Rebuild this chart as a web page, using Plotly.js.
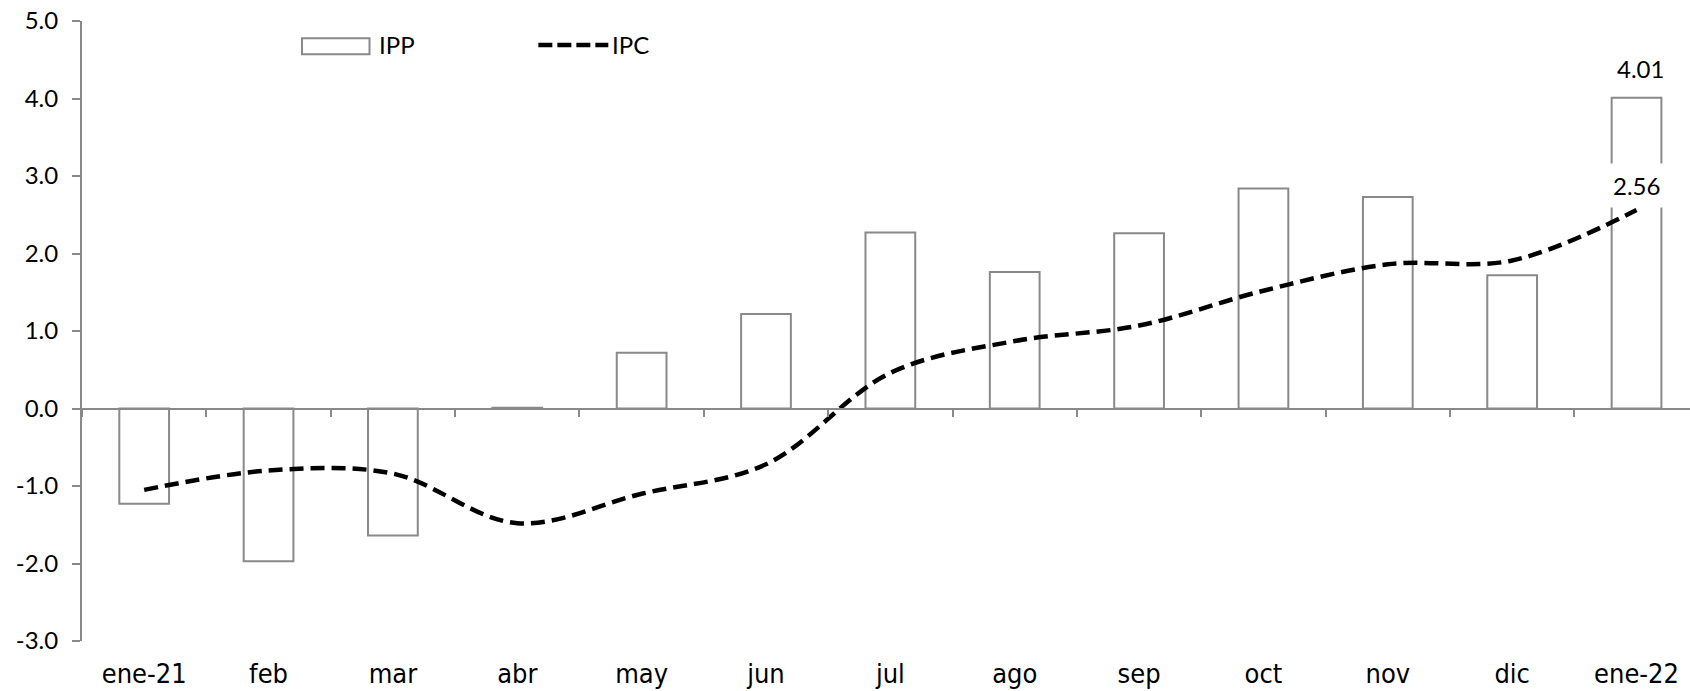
<!DOCTYPE html>
<html>
<head>
<meta charset="utf-8">
<script src="https://cdn.plot.ly/plotly-3.0.1.min.js"></script>
<style>html,body{margin:0;padding:0;background:#fff;}#chart{width:1690px;height:691px;}</style>
</head>
<body>
<div id="chart"></div>
<script>
// ---- data ----
const categories = ["ene-21","feb","mar","abr","may","jun","jul","ago","sep","oct","nov","dic","ene-22"];
const ippValues  = [-1.23, -1.97, -1.64, 0.01, 0.72, 1.22, 2.27, 1.76, 2.26, 2.84, 2.73, 1.72, 4.01];
const ipcValues  = [-1.05, -0.80, -0.84, -1.48, -1.10, -0.72, 0.46, 0.87, 1.07, 1.52, 1.86, 1.91, 2.56];
const yTickVals  = [-3, -2, -1, 0, 1, 2, 3, 4, 5];
const yTickText  = ["-3.0", "-2.0", "-1.0", "0.0", "1.0", "2.0", "3.0", "4.0", "5.0"];
const seriesNames = ["IPP", "IPC"];
const lastIdx = categories.length - 1;

const grey = "#898989";
const calibriLike = "Lato, Carlito, 'Open Sans', sans-serif";
const narrow = "'Liberation Sans Narrow', 'Arial Narrow', 'DejaVu Sans Condensed', sans-serif";
const xRange = [-0.5, 12.43];

const traces = [
  {
    type: "bar", name: seriesNames[0], x: categories, y: ippValues,
    xaxis: "x", yaxis: "y",
    width: 0.4,
    marker: {color: "#ffffff", line: {color: grey, width: 2}},
    hoverinfo: "skip"
  },
  {
    type: "scatter", mode: "lines", name: seriesNames[1], x: categories, y: ipcValues,
    xaxis: "x2", yaxis: "y",
    line: {color: "#000000", width: 4.5, dash: "14px,7px", shape: "spline", smoothing: 1},
    hoverinfo: "skip"
  }
];

const layout = {
  width: 1690, height: 691,
  margin: {l: 82, r: 0, t: 21, b: 50, pad: 0},
  paper_bgcolor: "#ffffff", plot_bgcolor: "#ffffff",
  showlegend: false,
  xaxis: {
    type: "category", categoryorder: "array", categoryarray: categories,
    range: xRange, showline: false, showgrid: false, zeroline: false,
    ticks: "", ticklabelstandoff: 14,
    tickfont: {family: narrow, size: 27, color: "#000"}
  },
  xaxis2: {
    type: "category", categoryorder: "array", categoryarray: categories,
    overlaying: "x", anchor: "free", position: 0.375, side: "bottom",
    range: xRange, showline: true, linecolor: grey, linewidth: 2,
    ticks: "outside", ticklen: 7, tickwidth: 2, tickcolor: grey, tickson: "boundaries",
    showticklabels: false, showgrid: false, zeroline: false
  },
  yaxis: {
    range: [-3, 5], tickmode: "array", tickvals: yTickVals, ticktext: yTickText,
    showline: true, linecolor: grey, linewidth: 2,
    ticks: "outside", ticklen: 8, tickwidth: 2, tickcolor: grey,
    ticklabelstandoff: 9,
    showgrid: false, zeroline: false,
    tickfont: {family: calibriLike, size: 24, color: "#000"}
  },
  annotations: [
    {x: categories[lastIdx], y: ippValues[lastIdx], xref: "x", yref: "y",
     text: ippValues[lastIdx].toFixed(2), showarrow: false, yanchor: "middle", yshift: 29, xshift: 4,
     font: {family: calibriLike, size: 24, color: "#000"}},
    {x: categories[lastIdx], y: ipcValues[lastIdx], xref: "x2", yref: "y",
     text: ipcValues[lastIdx].toFixed(2), showarrow: false, yanchor: "middle", yshift: 25,
     bgcolor: "#ffffff", borderpad: 7,
     font: {family: calibriLike, size: 24, color: "#000"}},
    {x: 0.1837, y: 0.9613, xref: "paper", yref: "paper", text: seriesNames[0], showarrow: false,
     xanchor: "left", yanchor: "middle", font: {family: calibriLike, size: 24, color: "#000"}},
    {x: 0.3285, y: 0.9613, xref: "paper", yref: "paper", text: seriesNames[1], showarrow: false,
     xanchor: "left", yanchor: "middle", font: {family: calibriLike, size: 24, color: "#000"}}
  ],
  shapes: [
    {type: "rect", xref: "paper", yref: "paper", x0: 0.1368, x1: 0.1788, y0: 0.9463, y1: 0.9721,
     line: {color: grey, width: 2}, fillcolor: "#ffffff"},
    {type: "line", xref: "paper", yref: "paper", x0: 0.2838, x1: 0.3273, y0: 0.9613, y1: 0.9613,
     line: {color: "#000000", width: 4.5, dash: "14px,5px"}}
  ]
};

Plotly.newPlot("chart", traces, layout, {staticPlot: true, displayModeBar: false});
</script>
</body>
</html>
